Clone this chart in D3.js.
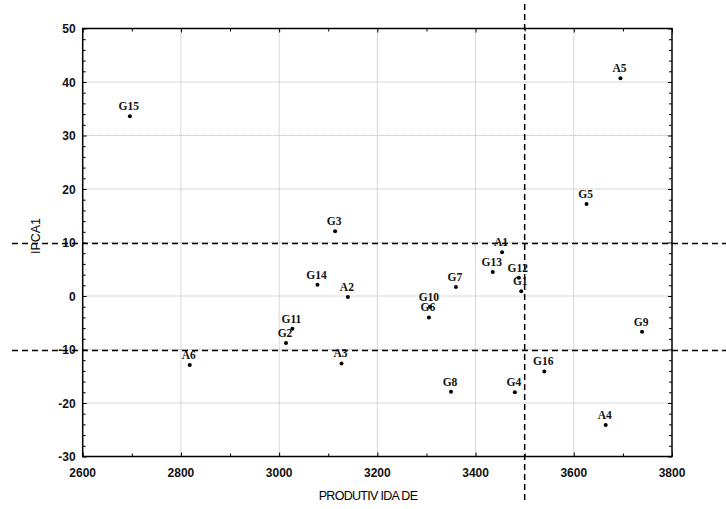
<!DOCTYPE html>
<html><head><meta charset="utf-8">
<script src="https://cdn.jsdelivr.net/npm/d3@7"></script>
<style>body{margin:0;background:#fff}</style>
</head><body>
<svg id="c" width="726" height="509"></svg>
<script>
const labels = ["A1","A2","A3","A4","A5","A6","G1","G2","G3","G4","G5","G6","G7","G8","G9","G10","G11","G12","G13","G14","G15","G16"];
const produtividade = [3454,3140,3127,3665,3695,2818,3493,3014,3114,3480,3626,3305,3360,3350,3739,3307,3027,3488,3435,3078,2696,3540];
const ipca1 = [8.2,-0.2,-12.6,-24.1,40.7,-12.9,0.9,-8.8,12.1,-18.0,17.2,-4.0,1.7,-17.9,-6.7,-2.0,-6.1,3.4,4.5,2.1,33.6,-14.1];
const xTicks = [2600,2800,3000,3200,3400,3600,3800];
const yTicks = [-30,-20,-10,0,10,20,30,40,50];
const xRef = [3500];
const yRef = [9.8,-10.2];

const svg = d3.select("#c");
const L=82.7,R=672,T=28.5,B=456.5;
const x = d3.scaleLinear().domain([2600,3800]).range([L,R]);
const y = d3.scaleLinear().domain([-30,50]).range([B,T]);

// grid
const g = svg.append("g");
g.selectAll(".gx").data(xTicks.slice(1,-1)).join("line")
  .attr("x1",d=>x(d)).attr("x2",d=>x(d)).attr("y1",T).attr("y2",B)
  .attr("stroke","#b0b0b0").attr("stroke-width",1).attr("stroke-dasharray","1,1");
g.selectAll(".gy").data(yTicks.slice(1,-1)).join("line")
  .attr("y1",d=>y(d)).attr("y2",d=>y(d)).attr("x1",L).attr("x2",R)
  .attr("stroke","#b0b0b0").attr("stroke-width",1).attr("stroke-dasharray","1,1");

// axes (inward ticks)
const xMinor = d3.range(2700,3800,200);
const yMinor = d3.range(-30,50,2).filter(v=>v%10!==0);
function ax(axisGen, tr){ const a=svg.append("g").attr("transform",tr).call(axisGen); a.select(".domain").remove(); a.selectAll("text").remove(); a.selectAll("line").attr("stroke","#000").attr("stroke-width",1); return a;}
ax(d3.axisBottom(x).tickValues(xTicks).tickSize(-4), `translate(0,${B})`);
ax(d3.axisBottom(x).tickValues(xMinor).tickSize(-3), `translate(0,${B})`);
ax(d3.axisTop(x).tickValues(xTicks).tickSize(-4), `translate(0,${T})`);
ax(d3.axisTop(x).tickValues(xMinor).tickSize(-3), `translate(0,${T})`);
ax(d3.axisLeft(y).tickValues(yTicks).tickSize(-4), `translate(${L},0)`);
ax(d3.axisLeft(y).tickValues(yMinor).tickSize(-3), `translate(${L},0)`);
ax(d3.axisRight(y).tickValues(yTicks).tickSize(-4), `translate(${R},0)`);
ax(d3.axisRight(y).tickValues(yMinor).tickSize(-3), `translate(${R},0)`);

svg.append("rect").attr("x",L).attr("y",T).attr("width",R-L).attr("height",B-T)
  .attr("fill","none").attr("stroke","#000").attr("stroke-width",1.5);

// tick labels
const tf = "'Liberation Sans', Arial, sans-serif";
svg.selectAll(".xl").data(xTicks).join("text")
  .attr("x",d=>x(d)).attr("y",B+20).attr("text-anchor","middle")
  .attr("font-family",tf).attr("font-size",12).attr("font-weight","bold").attr("fill","#111")
  .text(d=>d);
svg.selectAll(".yl").data(yTicks).join("text")
  .attr("x",L-7).attr("y",d=>y(d)+4.5).attr("text-anchor","end")
  .attr("font-family",tf).attr("font-size",12).attr("font-weight","bold").attr("fill","#111")
  .text(d=>d);

svg.append("text").attr("x",368).attr("y",500).attr("text-anchor","middle")
  .attr("font-family",tf).attr("font-size",12.5).attr("letter-spacing","-0.7")
  .text("PRODUTIV IDA DE");
svg.append("text").attr("transform","translate(40,236) rotate(-90)").attr("text-anchor","middle")
  .attr("font-family",tf).attr("font-size",12.5)
  .text("IPCA1");

// reference dashed lines
svg.selectAll(".hr").data(yRef).join("line")
  .attr("x1",12).attr("x2",726).attr("y1",d=>y(d)).attr("y2",d=>y(d))
  .attr("stroke","#000").attr("stroke-width",1.5).attr("stroke-dasharray","6,4");
svg.selectAll(".vr").data(xRef).join("line")
  .attr("x1",d=>x(d)).attr("x2",d=>x(d)).attr("y1",4).attr("y2",502)
  .attr("stroke","#000").attr("stroke-width",1.5).attr("stroke-dasharray","6,4");

// points
const pts = labels.map((l,i)=>({l, px:produtividade[i], py:ipca1[i]}));
svg.selectAll(".pt").data(pts).join("circle")
  .attr("cx",d=>x(d.px)).attr("cy",d=>y(d.py)).attr("r",2).attr("fill","#000");
svg.selectAll(".pl").data(pts).join("text")
  .attr("x",d=>x(d.px)-1).attr("y",d=>y(d.py)-6).attr("text-anchor","middle")
  .attr("font-family","'Liberation Serif','Times New Roman',serif").attr("font-size",11.5).attr("font-weight","bold")
  .attr("fill","#111")
  .text(d=>d.l);
</script>
</body></html>
